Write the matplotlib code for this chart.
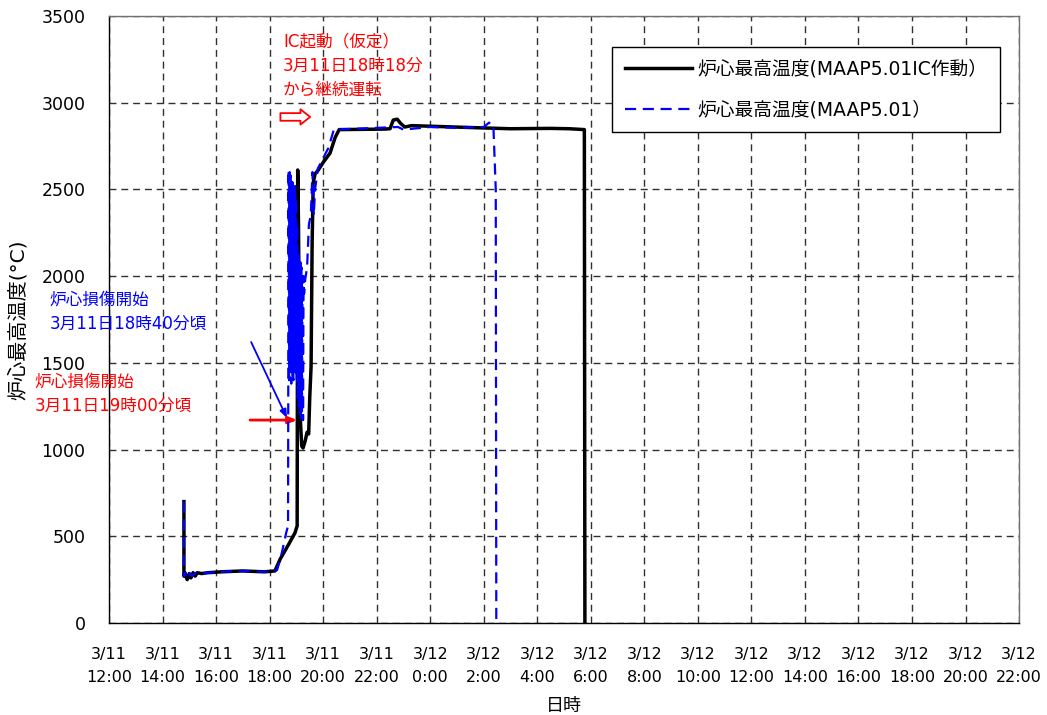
import matplotlib
matplotlib.use("Agg")
import matplotlib.pyplot as plt

plt.rcParams['font.family'] = ['DejaVu Sans', 'Noto Sans CJK JP']

# hours after 3/11 12:00
t_ic = [2.80, 2.80, 2.84, 2.92, 3.00, 3.06, 3.14, 3.22, 3.30, 3.45, 3.70, 4.20,
        5.00, 5.80, 6.20, 6.40, 6.70, 6.95, 7.03, 7.05, 7.08, 7.11, 7.14, 7.20,
        7.25, 7.33, 7.40, 7.46, 7.50, 7.55, 7.59, 7.63, 7.70, 7.81, 8.00, 8.26,
        8.45, 8.60, 10.30, 10.50, 10.62, 10.77, 10.90, 11.05, 11.30, 12.50,
        13.90, 15.00, 16.50, 17.20, 17.76, 17.78]
temp_ic = [700, 270, 290, 250, 285, 260, 290, 270, 290, 285, 290, 295,
           300, 295, 300, 370, 450, 520, 560, 2612, 2300, 1700, 1200, 1020,
           1009, 1050, 1100, 1090, 1300, 1480, 2200, 2540, 2590, 2610, 2655, 2710,
           2800, 2845, 2848, 2850, 2900, 2905, 2880, 2860, 2868, 2862,
           2855, 2850, 2852, 2850, 2845, 0]

t_base = [2.80, 2.80, 2.84, 2.92, 3.00, 3.10, 3.25, 3.45, 3.70, 4.20, 5.00,
          5.80, 6.28, 6.45, 6.62, 6.69, 6.71, 6.73, 6.75, 6.77, 6.79, 6.81,
          6.83, 6.85, 6.87, 6.89, 6.91, 6.93, 6.95, 6.97, 6.99, 7.01, 7.03,
          7.05, 7.07, 7.09, 7.11, 7.13, 7.15, 7.17, 7.19, 7.21, 7.23, 7.25,
          7.27, 7.29, 7.33, 7.40, 7.47, 7.54, 7.60, 7.65, 7.70, 7.80, 8.00,
          8.20, 8.40, 10.80, 11.00, 12.00, 13.00, 14.00, 14.20, 14.30, 14.36,
          14.45, 14.47]
temp_base = [700, 270, 290, 255, 285, 270, 290, 285, 290, 295, 300,
             295, 305, 400, 520, 560, 2612, 1400, 2600, 1450, 2580, 1380,
             2550, 1420, 2560, 1400, 2500, 1450, 2520, 1500, 2450, 1400, 2300,
             1300, 2150, 1250, 2100, 1200, 2080, 1180, 2050, 1220, 2000, 1170,
             2000, 1900, 1980, 2050, 2300, 2350, 2600, 2350, 2500, 2620, 2680,
             2740, 2845, 2860, 2845, 2860, 2855, 2860, 2885, 2870, 2870,
             2500, 0]

tick_hours = list(range(0, 35, 2))
tick_labels = ["3/11\n12:00", "3/11\n14:00", "3/11\n16:00", "3/11\n18:00",
               "3/11\n20:00", "3/11\n22:00", "3/12\n0:00", "3/12\n2:00",
               "3/12\n4:00", "3/12\n6:00", "3/12\n8:00", "3/12\n10:00",
               "3/12\n12:00", "3/12\n14:00", "3/12\n16:00", "3/12\n18:00",
               "3/12\n20:00", "3/12\n22:00"]

fig = plt.figure(figsize=(10.47, 7.15), dpi=100)
ax = fig.add_axes([0.1041, 0.1287, 0.8692, 0.8489])

ax.plot(t_ic, temp_ic, color='black', lw=2.5, label='炉心最高温度(MAAP5.01IC作動）',
        zorder=3)
ax.plot(t_base, temp_base, color='#0000ff', lw=1.6, ls=(0, (5, 3)),
        label='炉心最高温度(MAAP5.01）', zorder=4)

ax.set_xlim(0, 34)
ax.set_ylim(0, 3500)
ax.set_xticks(tick_hours)
ax.set_xticklabels(tick_labels, fontsize=11.5, linespacing=1.7)
ax.set_yticks(range(0, 3501, 500))
ax.tick_params(axis='y', length=0, pad=17, labelsize=12.5)
ax.tick_params(axis='x', length=0, pad=17)
ax.grid(True, color='#303030', ls=(0, (5, 3.5)), lw=1)
for s in ax.spines.values():
    s.set_color('black')
    s.set_linewidth(1)
ax.spines['top'].set_color('#707070')
ax.spines['right'].set_color('#707070')

ax.set_xlabel('日時', fontsize=13, labelpad=9)
ax.set_ylabel('炉心最高温度(°C)', fontsize=14.5, labelpad=10)

leg = ax.legend(loc='upper right', bbox_to_anchor=(0.979, 0.949), borderaxespad=0,
                fontsize=13.5, handlelength=3.6, labelspacing=1.2,
                fancybox=False, framealpha=1, edgecolor='black',
                borderpad=0.65, handletextpad=0.3)
leg.get_frame().set_linewidth(1)

# annotations
ax.text(6.5, 3405, 'IC起動（仮定）\n3月11日18時18分\nから継続運転', color='red',
        fontsize=12, va='top', ha='left', linespacing=1.45)
ax.annotate('', xy=(7.62, 2918), xytext=(6.3, 2918),
            arrowprops=dict(arrowstyle='simple,head_width=1.1,head_length=0.7,tail_width=0.55',
                            fc='white', ec='red', lw=1.3))
ax.text(-2.21, 1915, '炉心損傷開始\n3月11日18時40分頃', color='#0000ff',
        fontsize=12, va='top', ha='left', linespacing=1.4, clip_on=False)
ax.text(-2.77, 1442, '炉心損傷開始\n3月11日19時00分頃', color='red',
        fontsize=12, va='top', ha='left', linespacing=1.4, clip_on=False)
ax.annotate('', xy=(6.65, 1182), xytext=(5.31, 1620), annotation_clip=False,
            arrowprops=dict(arrowstyle='-|>,head_width=0.2,head_length=0.5',
                            color='#0000ff', lw=1.3, shrinkA=0, shrinkB=0))
ax.annotate('', xy=(7.03, 1170), xytext=(5.27, 1170), annotation_clip=False,
            arrowprops=dict(arrowstyle='-|>,head_width=0.2,head_length=0.5',
                            color='red', lw=2, shrinkA=0, shrinkB=0))

fig.savefig('out.png', dpi=100)
